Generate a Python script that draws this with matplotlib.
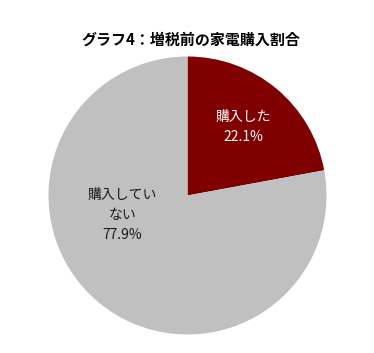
import matplotlib
matplotlib.use("Agg")
import matplotlib.pyplot as plt

plt.rcParams['font.family'] = ['Noto Sans CJK JP', 'DejaVu Sans']

title = "グラフ4：増税前の家電購入割合"
labels = ["購入した", "購入してい\nない"]
values = [22.1, 77.9]
colors = ["#800000", "#C0C0C0"]
text_colors = ["white", "#1a1a1a"]
# label anchor points in pie-radius units
label_pos = [(0.40, 0.49), (-0.47, -0.14)]

fig = plt.figure(figsize=(3.74, 3.53), dpi=100)
cx, cy, r = 187.5, 195.5, 139
ax = fig.add_axes([(cx - r) / 374, (353 - cy - r) / 353, 2 * r / 374, 2 * r / 353])
ax.pie(values, colors=colors, startangle=90, counterclock=False, radius=1,
       wedgeprops=dict(linewidth=0))
ax.set_xlim(-1, 1)
ax.set_ylim(-1, 1)
ax.set_aspect("equal")
ax.axis("off")

for lab, v, (x, y), c in zip(labels, values, label_pos, text_colors):
    ax.text(x, y, f"{lab}\n{v:.1f}%", ha="center", va="center",
            fontsize=10, color=c, linespacing=1.55)

fig.text(0.51, 1 - 40 / 353, title, ha="center", va="center",
         fontsize=10.8, fontweight="bold")

fig.savefig("out.png", dpi=100)
